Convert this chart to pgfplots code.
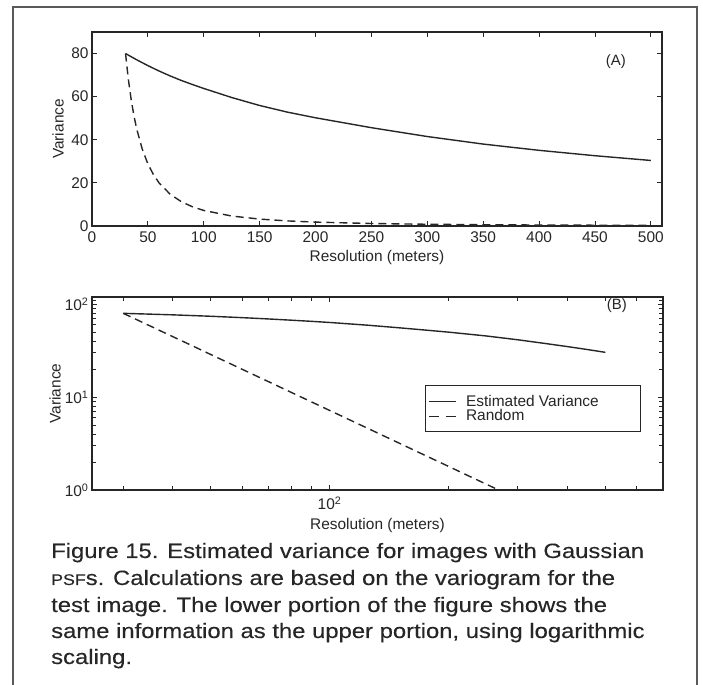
\documentclass[border=0pt]{standalone}
\usepackage{pgfplots}
\usepackage{pgfplotstable}
\pgfplotsset{compat=1.18}
\usepackage{fontspec}
\setmainfont{Liberation Sans}
\newfontfamily\capfont[FakeStretch=1.15,FakeBold=0.25]{Liberation Sans}
\definecolor{ink}{HTML}{262626}
\definecolor{framec}{HTML}{5A5A5A}

\pgfplotstableread{
x y
30 80
40 77.1
50 74.4
60 71.9
70 69.6
80 67.5
90 65.6
100 63.8
125 59.6
150 55.9
175 52.8
200 50.2
250 45.6
300 41.5
350 38.0
400 35.1
450 32.6
500 30.4
}\estvar

\pgfplotstableread{
x y
30 80
32.5 68.2
35 58.8
37.5 51.2
40 45
45 35.6
50 28.8
55 23.8
60 20
70 14.7
80 11.25
90 8.89
100 7.2
125 4.61
150 3.2
175 2.35
200 1.8
250 1.15
300 0.8
350 0.59
400 0.45
450 0.36
500 0.29
}\randvar

\pgfplotsset{
  matlab/.style={
    scale only axis, anchor=south west,
    tick align=inside, tick pos=both,
    major tick length=5bp, minor tick length=4bp,
    axis line style={ink, line width=1.2bp},
    tick style={ink, line width=0.9bp},
    ticklabel style={font=\fontsize{15.5}{15.5}\selectfont, text=ink},
    label style={font=\fontsize{15.5}{15.5}\selectfont, text=ink},
    /pgf/number format/assume math mode=true,
  },
  est/.style={ink, line width=1.4bp},
  rnd/.style={ink, line width=1.4bp, dash pattern=on 8bp off 5bp},
}

\begin{document}
\begin{tikzpicture}[x=1bp,y=1bp]
\path[use as bounding box] (0,0) rectangle (703,685);
\draw[framec, line width=1.2bp] (13,0) -- (13,678) -- (697,678) -- (697,0);

% ---------- (A) linear ----------
\begin{axis}[matlab,
  at={(92bp,459bp)}, width=570bp, height=194bp,
  xmin=0, xmax=510, ymin=0, ymax=90,
  xtick={0,50,...,500}, ytick={0,20,...,80},
  xticklabel style={yshift=-2.6bp},
  xlabel={Resolution (meters)}, ylabel={Variance},
  xlabel style={at={(axis description cs:0.5,-0.16)}, anchor=center},
  ylabel style={at={(axis description cs:-0.0596,0.5)}, anchor=center},
]
\addplot[est] table[x=x,y=y] {\estvar};
\addplot[rnd] table[x=x,y=y] {\randvar};
\node[font=\fontsize{15}{15}\selectfont, text=ink] at (rel axis cs:0.919,0.845) {(A)};
\end{axis}

% ---------- (B) log-log ----------
\begin{axis}[matlab,
  at={(92bp,195bp)}, width=571bp, height=193bp,
  xmode=log, ymode=log,
  xmin=25, xmax=700, ymin=1, ymax=120,
  xtick={100}, xticklabels={10\textsuperscript{2}},
  ytick={1,10,100}, yticklabels={10\textsuperscript{0},10\textsuperscript{1},10\textsuperscript{2}},
  minor xtick={30,40,50,60,70,80,90,200,300,400,500,600},
  minor ytick={2,3,4,5,6,7,8,9,20,30,40,50,60,70,80,90,110},
  xticklabel style={yshift=-3bp},
  xlabel={Resolution (meters)}, ylabel={Variance},
  xlabel style={at={(axis description cs:0.5,-0.1865)}, anchor=center},
  ylabel style={at={(axis description cs:-0.0648,0.5)}, anchor=center},
  legend style={at={(0.583,0.544)}, anchor=north west, draw=ink, line width=1.1bp,
    font=\fontsize{15.5}{15.5}\selectfont, text=ink, inner xsep=3bp, inner ysep=8bp,
    row sep=-1bp, column sep=8bp, nodes={inner sep=1.5bp}},
  legend cell align=left,
]
\addplot[est, legend image code/.code={\draw[ink, line width=1.1bp] (0bp,0bp) -- (27bp,0bp);}] table[x=x,y=y] {\estvar};
\addlegendentry{Estimated Variance\hspace*{37bp}}
\addplot[rnd, legend image code/.code={\draw[ink, line width=1.1bp, dash pattern=on 10bp off 7bp] (0bp,0bp) -- (27bp,0bp);}] table[x=x,y=y] {\randvar};
\addlegendentry{Random}
\node[font=\fontsize{15}{15}\selectfont, text=ink] at (rel axis cs:0.919,0.953) {(B)};
\end{axis}

% ---------- caption ----------
\begin{scope}[every node/.style={anchor=base west, inner sep=0pt, text=ink, font=\capfont\fontsize{20.8}{20.8}\selectfont}]
\node at (51,127) {Figure 15. Estimated variance for images with Gaussian};
\node at (51,100) {{\fontsize{15.5}{15.5}\selectfont PSF}s. Calculations are based on the variogram for the};
\node at (51,73) {test image. The lower portion of the figure shows the};
\node at (51,47) {same information as the upper portion, using logarithmic};
\node at (51,21) {scaling.};
\end{scope}
\end{tikzpicture}
\end{document}
